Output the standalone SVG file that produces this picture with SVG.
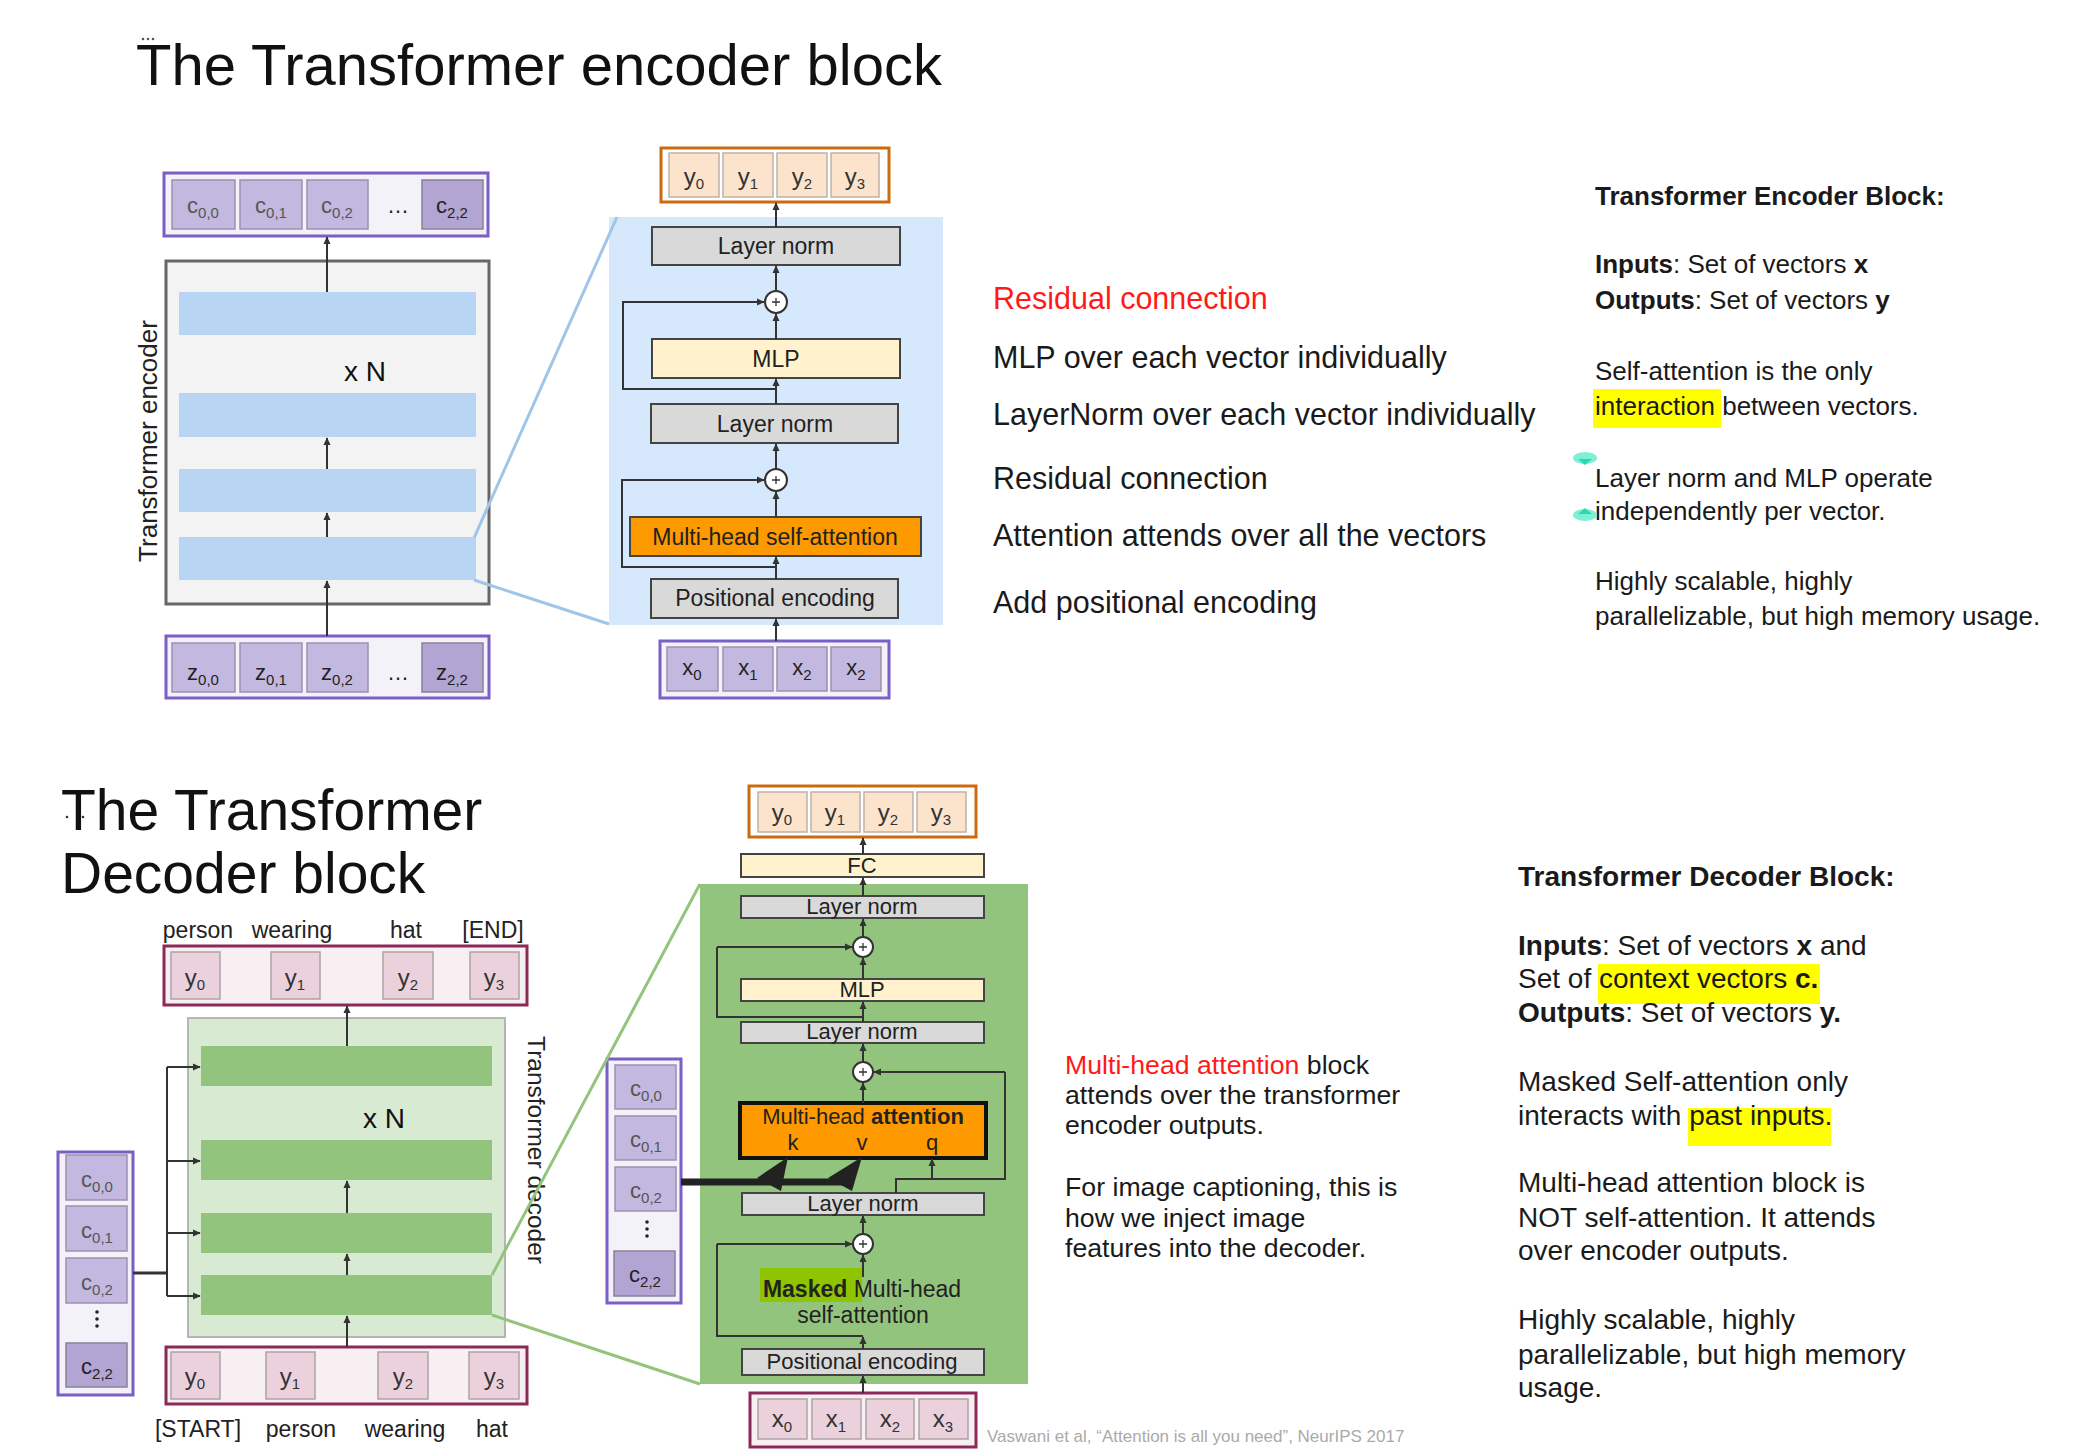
<svg xmlns="http://www.w3.org/2000/svg" width="2082" height="1450" viewBox="0 0 2082 1450">
<defs>
<marker id="ah" viewBox="0 0 10 10" refX="9" refY="5" markerWidth="8" markerHeight="8" markerUnits="userSpaceOnUse" orient="auto">
<path d="M0,0.5 L10,5 L0,9.5 z" fill="#333"/>
</marker>
<g id="plus"><circle r="11" fill="#fff" stroke="#333" stroke-width="2"/><path d="M-4,0H4M0,-4V4" stroke="#333" stroke-width="1.3"/></g>
<g id="plusS"><circle r="10" fill="#fff" stroke="#333" stroke-width="2"/><path d="M-4,0H4M0,-4V4" stroke="#333" stroke-width="1.3"/></g>
</defs>
<style>
text{font-family:"Liberation Sans",Arial,Helvetica,sans-serif;fill:#1a1a1a}
.title{font-size:58px;fill:#111}
.dtitle{font-size:57px;fill:#111}
.cl{font-size:22px;fill:#555;text-anchor:middle}
.cl2{font-size:22px;fill:#222;text-anchor:middle}
.sub{font-size:15px}
.yl{font-size:24px;fill:#333;text-anchor:middle}
.blk{font-size:23px;fill:#222;text-anchor:middle}
.dblk{font-size:22px;fill:#222;text-anchor:middle}
.note{font-size:30.5px;fill:#1a1a1a}
.side{font-size:26px;fill:#1a1a1a}
.dside{font-size:28px;fill:#1a1a1a}
.mid{font-size:26.7px;fill:#1a1a1a}
.word{font-size:23px;fill:#222;text-anchor:middle}
.b{font-weight:bold}
.red{fill:#ff1a1a}
.pcont{fill:#f3f2f8;stroke:#7b5fc6;stroke-width:3}
.pcell{fill:#c3b8df;stroke:#9a92ae;stroke-width:1.5}
.pcellD{fill:#b2a4d3;stroke:#8a8199;stroke-width:1.5}
.ocont{fill:#fff;stroke:#cc6a10;stroke-width:3}
.ocell{fill:#fce4cc;stroke:#bdb2a8;stroke-width:1.5}
.mcont{fill:#f7eff2;stroke:#8c2a57;stroke-width:3}
.mcell{fill:#ead1dc;stroke:#aea2a7;stroke-width:1.5}
.gray{fill:#d9d9d9;stroke:#444;stroke-width:2}
.yel{fill:#fff2cc;stroke:#444;stroke-width:2}
.ln{fill:none;stroke:#333;stroke-width:2}
.arr{fill:none;stroke:#333;stroke-width:2;marker-end:url(#ah)}
.hl{fill:#ffff00}
</style>
<rect width="2082" height="1450" fill="#fff"/>

<!-- ===== Encoder section ===== -->
<g id="enc-title">
<text class="title" x="136" y="85">The Transformer encoder block</text>
<circle cx="143" cy="39" r="1.3" fill="#555"/><circle cx="148" cy="39" r="1.3" fill="#555"/><circle cx="153" cy="39" r="1.3" fill="#555"/>
</g>

<g id="enc-c-out">
<rect class="pcont" x="164" y="173" width="324" height="63"/>
<rect class="pcell" x="172" y="180" width="63" height="49"/>
<rect class="pcell" x="240" y="180" width="62" height="49"/>
<rect class="pcell" x="307" y="180" width="61" height="49"/>
<rect class="pcellD" x="422" y="180" width="61" height="49"/>
<text class="cl" x="203" y="213">c<tspan class="sub" dy="5">0,0</tspan></text>
<text class="cl" x="271" y="213">c<tspan class="sub" dy="5">0,1</tspan></text>
<text class="cl" x="337" y="213">c<tspan class="sub" dy="5">0,2</tspan></text>
<text class="cl2" x="398" y="213">…</text>
<text class="cl2" x="452" y="213">c<tspan class="sub" dy="5">2,2</tspan></text>
</g>

<g id="enc-stack">
<rect x="166" y="261" width="323" height="343" fill="#f3f3f3" stroke="#666" stroke-width="3"/>
<rect x="179" y="292" width="297" height="43" fill="#b8d6f3"/>
<rect x="179" y="393" width="297" height="44" fill="#b8d6f3"/>
<rect x="179" y="469" width="297" height="43" fill="#b8d6f3"/>
<rect x="179" y="537" width="297" height="43" fill="#b8d6f3"/>
<text x="365" y="381" style="font-size:28px;text-anchor:middle;fill:#111">x N</text>
<text transform="translate(157,441) rotate(-90)" style="font-size:26px;text-anchor:middle;fill:#222">Transformer encoder</text>
</g>

<g id="enc-z-in">
<rect class="pcont" x="166" y="636" width="323" height="62"/>
<rect class="pcell" x="172" y="643" width="63" height="49"/>
<rect class="pcell" x="240" y="643" width="62" height="49"/>
<rect class="pcell" x="307" y="643" width="61" height="49"/>
<rect class="pcellD" x="422" y="643" width="61" height="49"/>
<text class="cl2" x="203" y="680">z<tspan class="sub" dy="5">0,0</tspan></text>
<text class="cl2" x="271" y="680">z<tspan class="sub" dy="5">0,1</tspan></text>
<text class="cl2" x="337" y="680">z<tspan class="sub" dy="5">0,2</tspan></text>
<text class="cl2" x="398" y="680">…</text>
<text class="cl2" x="452" y="680">z<tspan class="sub" dy="5">2,2</tspan></text>
</g>

<g id="enc-detail-panel">
<rect x="609" y="217" width="334" height="408" fill="#d6e8fc"/>
</g>

<g id="enc-y-out">
<rect class="ocont" x="661" y="148" width="228" height="54"/>
<rect class="ocell" x="669" y="153" width="50" height="44"/>
<rect class="ocell" x="723" y="153" width="50" height="44"/>
<rect class="ocell" x="777" y="153" width="50" height="44"/>
<rect class="ocell" x="831" y="153" width="48" height="44"/>
<text class="yl" x="694" y="185">y<tspan class="sub" dy="4">0</tspan></text>
<text class="yl" x="748" y="185">y<tspan class="sub" dy="4">1</tspan></text>
<text class="yl" x="802" y="185">y<tspan class="sub" dy="4">2</tspan></text>
<text class="yl" x="855" y="185">y<tspan class="sub" dy="4">3</tspan></text>
</g>

<g id="enc-ln2"><rect class="gray" x="652" y="227" width="248" height="38"/><text class="blk" x="776" y="254">Layer norm</text></g>
<g id="enc-mlp"><rect class="yel" x="652" y="339" width="248" height="39"/><text class="blk" x="776" y="367">MLP</text></g>
<g id="enc-ln1"><rect class="gray" x="651" y="404" width="247" height="39"/><text class="blk" x="775" y="432">Layer norm</text></g>
<g id="enc-mhsa"><rect x="630" y="517" width="291" height="39" fill="#ff9900" stroke="#444" stroke-width="2"/><text class="blk" x="775" y="545">Multi-head self-attention</text></g>
<g id="enc-pe"><rect class="gray" x="651" y="579" width="247" height="39"/><text class="blk" x="775" y="606">Positional encoding</text></g>
<g id="enc-plus2"><use href="#plus" x="776" y="302"/></g>
<g id="enc-plus1"><use href="#plus" x="776" y="480"/></g>

<g id="enc-x-in">
<rect class="pcont" x="660" y="641" width="229" height="57"/>
<rect class="pcell" x="667" y="647" width="51" height="44"/>
<rect class="pcell" x="723" y="647" width="50" height="44"/>
<rect class="pcell" x="777" y="647" width="50" height="44"/>
<rect class="pcell" x="831" y="647" width="50" height="44"/>
<text class="cl2" x="692" y="675">x<tspan class="sub" dy="5">0</tspan></text>
<text class="cl2" x="748" y="675">x<tspan class="sub" dy="5">1</tspan></text>
<text class="cl2" x="802" y="675">x<tspan class="sub" dy="5">2</tspan></text>
<text class="cl2" x="856" y="675">x<tspan class="sub" dy="5">2</tspan></text>
</g>

<g id="enc-notes">
<text class="note red" x="993" y="309">Residual connection</text>
<text class="note" x="993" y="368">MLP over each vector individually</text>
<text class="note" x="993" y="425">LayerNorm over each vector individually</text>
<text class="note" x="993" y="489">Residual connection</text>
<text class="note" x="993" y="546">Attention attends over all the vectors</text>
<text class="note" x="993" y="613">Add positional encoding</text>
</g>

<g id="enc-side">
<rect class="hl" x="1593" y="389" width="128" height="39"/>
<text class="side b" x="1595" y="205">Transformer Encoder Block:</text>
<text class="side" x="1595" y="273"><tspan class="b">Inputs</tspan>: Set of vectors <tspan class="b">x</tspan></text>
<text class="side" x="1595" y="309"><tspan class="b">Outputs</tspan>: Set of vectors <tspan class="b">y</tspan></text>
<text class="side" x="1595" y="380">Self-attention is the only</text>
<text class="side" x="1595" y="415">interaction between vectors.</text>
<text class="side" x="1595" y="487">Layer norm and MLP operate</text>
<text class="side" x="1595" y="520">independently per vector.</text>
<text class="side" x="1595" y="590">Highly scalable, highly</text>
<text class="side" x="1595" y="625">parallelizable, but high memory usage.</text>
<ellipse cx="1585" cy="458" rx="12" ry="6" fill="#7ef0d6"/>
<path d="M1578,459 L1585,465 L1592,459 Z" fill="#22ddb0"/>
<ellipse cx="1585" cy="515" rx="12" ry="6" fill="#7ef0d6"/>
<path d="M1578,514 L1585,508 L1592,514 Z" fill="#22ddb0"/>
</g>

<!-- ===== Decoder section ===== -->
<g id="dec-title">
<text class="dtitle" x="61" y="830">The Transformer</text>
<text class="dtitle" x="61" y="893">Decoder block</text>
<circle cx="67" cy="817" r="1.3" fill="#333"/><circle cx="83" cy="817" r="1.3" fill="#333"/>
</g>

<g id="dec-words-top">
<text class="word" x="198" y="938">person</text>
<text class="word" x="292" y="938">wearing</text>
<text class="word" x="406" y="938">hat</text>
<text class="word" x="493" y="938">[END]</text>
</g>

<g id="dec-y-out">
<rect class="mcont" x="164" y="946" width="363" height="59"/>
<rect class="mcell" x="171" y="952" width="49" height="47"/>
<rect class="mcell" x="271" y="952" width="49" height="47"/>
<rect class="mcell" x="383" y="952" width="50" height="47"/>
<rect class="mcell" x="470" y="952" width="49" height="47"/>
<text class="yl" x="195" y="986">y<tspan class="sub" dy="4">0</tspan></text>
<text class="yl" x="295" y="986">y<tspan class="sub" dy="4">1</tspan></text>
<text class="yl" x="408" y="986">y<tspan class="sub" dy="4">2</tspan></text>
<text class="yl" x="494" y="986">y<tspan class="sub" dy="4">3</tspan></text>
</g>

<g id="dec-stack">
<rect x="188" y="1018" width="317" height="319" fill="#d9ead3" stroke="#b5b5b5" stroke-width="2"/>
<rect x="201" y="1046" width="291" height="40" fill="#93c47d"/>
<rect x="201" y="1140" width="291" height="40" fill="#93c47d"/>
<rect x="201" y="1213" width="291" height="40" fill="#93c47d"/>
<rect x="201" y="1275" width="291" height="40" fill="#93c47d"/>
<text x="384" y="1128" style="font-size:28px;text-anchor:middle;fill:#111">x N</text>
<text transform="translate(528,1150) rotate(90)" style="font-size:24.5px;text-anchor:middle;fill:#222">Transformer decoder</text>
</g>

<g id="dec-y-in">
<rect class="mcont" x="166" y="1347" width="361" height="57"/>
<rect class="mcell" x="171" y="1352" width="49" height="47"/>
<rect class="mcell" x="266" y="1352" width="49" height="47"/>
<rect class="mcell" x="378" y="1352" width="50" height="47"/>
<rect class="mcell" x="469" y="1352" width="50" height="47"/>
<text class="yl" x="195" y="1385">y<tspan class="sub" dy="4">0</tspan></text>
<text class="yl" x="290" y="1385">y<tspan class="sub" dy="4">1</tspan></text>
<text class="yl" x="403" y="1385">y<tspan class="sub" dy="4">2</tspan></text>
<text class="yl" x="494" y="1385">y<tspan class="sub" dy="4">3</tspan></text>
</g>

<g id="dec-words-bottom">
<text class="word" x="198" y="1437">[START]</text>
<text class="word" x="301" y="1437">person</text>
<text class="word" x="405" y="1437">wearing</text>
<text class="word" x="492" y="1437">hat</text>
</g>

<g id="dec-c-left">
<rect class="pcont" x="58" y="1152" width="75" height="243"/>
<rect class="pcell" x="66" y="1155" width="61" height="45"/>
<rect class="pcell" x="66" y="1206" width="61" height="45"/>
<rect class="pcell" x="66" y="1258" width="61" height="45"/>
<rect class="pcellD" x="66" y="1343" width="61" height="44"/>
<text class="cl" x="97" y="1187">c<tspan class="sub" dy="5">0,0</tspan></text>
<text class="cl" x="97" y="1238">c<tspan class="sub" dy="5">0,1</tspan></text>
<text class="cl" x="97" y="1290">c<tspan class="sub" dy="5">0,2</tspan></text>
<circle cx="97" cy="1312" r="1.8" fill="#222"/><circle cx="97" cy="1319" r="1.8" fill="#222"/><circle cx="97" cy="1326" r="1.8" fill="#222"/>
<text class="cl2" x="97" y="1374">c<tspan class="sub" dy="5">2,2</tspan></text>
</g>

<g id="dec-detail-panel">
<rect x="700" y="884" width="328" height="500" fill="#93c47d"/>
</g>

<g id="dec-c-mid">
<rect class="pcont" x="607" y="1059" width="74" height="244"/>
<rect class="pcell" x="615" y="1065" width="61" height="44"/>
<rect class="pcell" x="615" y="1116" width="61" height="44"/>
<rect class="pcell" x="615" y="1167" width="61" height="44"/>
<rect class="pcellD" x="614" y="1251" width="61" height="45"/>
<text class="cl" x="646" y="1096">c<tspan class="sub" dy="5">0,0</tspan></text>
<text class="cl" x="646" y="1147">c<tspan class="sub" dy="5">0,1</tspan></text>
<text class="cl" x="646" y="1198">c<tspan class="sub" dy="5">0,2</tspan></text>
<circle cx="647" cy="1222" r="1.8" fill="#222"/><circle cx="647" cy="1229" r="1.8" fill="#222"/><circle cx="647" cy="1236" r="1.8" fill="#222"/>
<text class="cl2" x="645" y="1282">c<tspan class="sub" dy="5">2,2</tspan></text>
</g>

<g id="dec-y-final">
<rect class="ocont" x="749" y="786" width="227" height="51"/>
<rect class="ocell" x="758" y="792" width="49" height="40"/>
<rect class="ocell" x="811" y="792" width="49" height="40"/>
<rect class="ocell" x="864" y="792" width="49" height="40"/>
<rect class="ocell" x="917" y="792" width="49" height="40"/>
<text class="yl" x="782" y="821">y<tspan class="sub" dy="4">0</tspan></text>
<text class="yl" x="835" y="821">y<tspan class="sub" dy="4">1</tspan></text>
<text class="yl" x="888" y="821">y<tspan class="sub" dy="4">2</tspan></text>
<text class="yl" x="941" y="821">y<tspan class="sub" dy="4">3</tspan></text>
</g>

<g id="dec-fc"><rect class="yel" x="741" y="854" width="243" height="23"/><text class="dblk" x="862" y="873">FC</text></g>
<g id="dec-ln3"><rect class="gray" x="741" y="896" width="243" height="22"/><text class="dblk" x="862" y="914">Layer norm</text></g>
<g id="dec-mlp"><rect class="yel" x="741" y="979" width="243" height="22"/><text class="dblk" x="862" y="997">MLP</text></g>
<g id="dec-ln2"><rect class="gray" x="741" y="1022" width="243" height="21"/><text class="dblk" x="862" y="1039">Layer norm</text></g>
<g id="dec-mha">
<rect x="740" y="1103" width="246" height="55" fill="#ff9900" stroke="#111" stroke-width="4"/>
<text class="dblk" x="863" y="1124">Multi-head <tspan class="b">attention</tspan></text>
<text x="793" y="1150" style="font-size:22px;text-anchor:middle;fill:#222">k</text>
<text x="862" y="1150" style="font-size:22px;text-anchor:middle;fill:#222">v</text>
<text x="932" y="1150" style="font-size:22px;text-anchor:middle;fill:#222">q</text>
</g>
<g id="dec-ln1"><rect class="gray" x="742" y="1193" width="242" height="22"/><text class="dblk" x="863" y="1211">Layer norm</text></g>
<g id="dec-mmsa">
<rect x="760" y="1268" width="102" height="34" fill="#8fc400"/>
<text x="862" y="1297" style="font-size:23px;text-anchor:middle;fill:#222"><tspan class="b">Masked</tspan> Multi-head</text>
<text x="863" y="1323" style="font-size:23px;text-anchor:middle;fill:#222">self-attention</text>
</g>
<g id="dec-pe"><rect class="gray" x="742" y="1349" width="242" height="26"/><text class="dblk" x="862" y="1369">Positional encoding</text></g>
<g id="dec-plus3"><use href="#plusS" x="863" y="947"/></g>
<g id="dec-plus2"><use href="#plusS" x="863" y="1072"/></g>
<g id="dec-plus1"><use href="#plusS" x="863" y="1244"/></g>

<g id="dec-x-in">
<rect class="mcont" x="750" y="1393" width="226" height="54"/>
<rect class="mcell" x="758" y="1399" width="49" height="40"/>
<rect class="mcell" x="812" y="1399" width="49" height="40"/>
<rect class="mcell" x="866" y="1399" width="48" height="40"/>
<rect class="mcell" x="919" y="1399" width="49" height="40"/>
<text class="yl" x="782" y="1427">x<tspan class="sub" dy="5">0</tspan></text>
<text class="yl" x="836" y="1427">x<tspan class="sub" dy="5">1</tspan></text>
<text class="yl" x="890" y="1427">x<tspan class="sub" dy="5">2</tspan></text>
<text class="yl" x="943" y="1427">x<tspan class="sub" dy="5">3</tspan></text>
</g>

<g id="dec-mid-notes">
<text class="mid" x="1065" y="1074"><tspan class="red">Multi-head attention</tspan> block</text>
<text class="mid" x="1065" y="1104">attends over the transformer</text>
<text class="mid" x="1065" y="1134">encoder outputs.</text>
<text class="mid" x="1065" y="1196">For image captioning, this is</text>
<text class="mid" x="1065" y="1227">how we inject image</text>
<text class="mid" x="1065" y="1257">features into the decoder.</text>
</g>

<g id="dec-side">
<rect class="hl" x="1598" y="964" width="222" height="40"/>
<rect class="hl" x="1688" y="1108" width="143" height="38"/>
<text class="dside b" x="1518" y="886">Transformer Decoder Block:</text>
<text class="dside" x="1518" y="955"><tspan class="b">Inputs</tspan>: Set of vectors <tspan class="b">x</tspan> and</text>
<text class="dside" x="1518" y="988">Set of context vectors <tspan class="b">c.</tspan></text>
<text class="dside" x="1518" y="1022"><tspan class="b">Outputs</tspan>: Set of vectors <tspan class="b">y.</tspan></text>
<text class="dside" x="1518" y="1091">Masked Self-attention only</text>
<text class="dside" x="1518" y="1125">interacts with past inputs.</text>
<text class="dside" x="1518" y="1192">Multi-head attention block is</text>
<text class="dside" x="1518" y="1227">NOT self-attention. It attends</text>
<text class="dside" x="1518" y="1260">over encoder outputs.</text>
<text class="dside" x="1518" y="1329">Highly scalable, highly</text>
<text class="dside" x="1518" y="1364">parallelizable, but high memory</text>
<text class="dside" x="1518" y="1397">usage.</text>
</g>

<g id="citation">
<text x="987" y="1442" style="font-size:17px;fill:#aaa">Vaswani et al, “Attention is all you need”, NeurIPS 2017</text>
</g>

<!-- ===== Connectors ===== -->
<g id="connectors">
<path d="M474,538 L617,217" stroke="#9fc5e8" stroke-width="3" fill="none"/>
<path d="M474,580 L609,624" stroke="#9fc5e8" stroke-width="3" fill="none"/>
<path class="arr" d="M327,292 V237"/>
<path class="arr" d="M327,469 V438"/>
<path class="arr" d="M327,537 V513"/>
<path class="arr" d="M327,636 V581"/>
<path class="arr" d="M776,641 V619"/>
<path class="arr" d="M776,579 V557"/>
<path class="arr" d="M776,517 V492"/>
<path class="arr" d="M776,469 V444"/>
<path class="arr" d="M776,404 V379"/>
<path class="arr" d="M776,339 V314"/>
<path class="arr" d="M776,291 V266"/>
<path class="arr" d="M776,227 V203"/>
<path class="arr" d="M776,567 H622 V480 H764"/>
<path class="arr" d="M776,389 H623 V302 H764"/>

<path d="M492,1275 L700,884" stroke="#93c47d" stroke-width="3" fill="none"/>
<path d="M492,1315 L700,1384" stroke="#93c47d" stroke-width="3" fill="none"/>
<path class="arr" d="M347,1046 V1006"/>
<path class="arr" d="M347,1213 V1181"/>
<path class="arr" d="M347,1275 V1254"/>
<path class="arr" d="M347,1347 V1316"/>
<path d="M133,1273 H167" stroke="#333" stroke-width="3" fill="none"/>
<path class="ln" d="M167,1067 V1296"/>
<path class="arr" d="M167,1067 H200"/>
<path class="arr" d="M167,1161 H200"/>
<path class="arr" d="M167,1233 H200"/>
<path class="arr" d="M167,1296 H200"/>
<path class="arr" d="M863,1393 V1376"/>
<path class="arr" d="M863,1349 V1337"/>
<path class="ln" d="M863,1336 H717 V1244"/>
<path class="arr" d="M717,1244 H852"/>
<path class="arr" d="M863,1277 V1255"/>
<path class="arr" d="M863,1234 V1216"/>
<path class="ln" d="M896,1193 V1179 H1005 V1072"/>
<path class="arr" d="M1005,1072 H874"/>
<path class="arr" d="M932,1179 V1159"/>
<path class="arr" d="M863,1103 V1083"/>
<path class="arr" d="M863,1062 V1044"/>
<path class="arr" d="M863,1022 V1002"/>
<path class="ln" d="M863,1017 H717 V947"/>
<path class="arr" d="M717,947 H852"/>
<path class="arr" d="M863,979 V958"/>
<path class="arr" d="M863,937 V919"/>
<path class="arr" d="M863,896 V878"/>
<path class="arr" d="M863,854 V838"/>
<path d="M681,1182 H845" stroke="#222" stroke-width="7" fill="none"/>
<polygon points="757,1178 781,1191 788,1157" fill="#222"/>
<polygon points="828,1178 852,1191 862,1157" fill="#222"/>
</g>
</svg>
